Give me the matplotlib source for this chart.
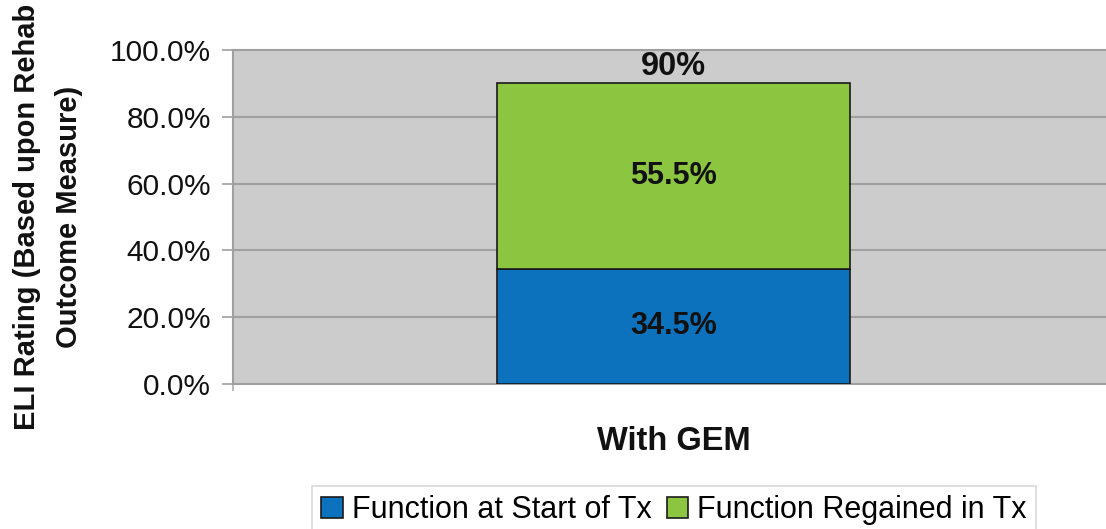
import matplotlib
matplotlib.use("Agg")
import matplotlib.pyplot as plt
from matplotlib.patches import Patch

plt.rcParams['font.family'] = ['Liberation Sans', 'DejaVu Sans']

categories = ["With GEM"]
series_names = ["Function at Start of Tx", "Function Regained in Tx"]
start_vals = [34.5]
regained_vals = [55.5]
total_labels = ["90%"]
yticks = [0, 20, 40, 60, 80, 100]

blue = "#0D72BD"
green = "#8CC53F"

fig = plt.figure(figsize=(11.06, 5.29), dpi=100)
ax = fig.add_axes([233/1106, 1-384/529, 1-233/1106, (384-50)/529])
ax.set_facecolor("#CCCCCC")

x = list(range(len(categories)))
ax.bar(x, start_vals, width=0.404, color=blue, edgecolor="#1a1a1a", linewidth=1.2, zorder=3)
ax.bar(x, regained_vals, bottom=start_vals, width=0.404, color=green, edgecolor="#1a1a1a", linewidth=1.2, zorder=3)

for i in x:
    ax.text(i, start_vals[i]/2, f"{start_vals[i]}%", ha="center", va="center",
            fontsize=22, fontweight="bold", color="#111111", zorder=4)
    ax.text(i, start_vals[i] + regained_vals[i]/2, f"{regained_vals[i]}%", ha="center", va="center",
            fontsize=22, fontweight="bold", color="#111111", zorder=4)
    ax.text(i, start_vals[i] + regained_vals[i] + 0.3, total_labels[i], ha="center", va="bottom",
            fontsize=23.5, fontweight="bold", color="#111111", zorder=4)

off = 0.0046
ax.set_xlim(-0.5 - off, 0.5 - off)
ax.set_ylim(0, 100)
ax.set_yticks(yticks)
ax.set_yticklabels([f"{v:.1f}%" for v in yticks], fontsize=21.5, color="#111111")
ax.yaxis.grid(True, color="#A0A0A0", linewidth=1.5, zorder=0)
ax.set_axisbelow(True)
ax.tick_params(axis="y", direction="out", length=8, width=1.2, color="#A0A0A0", pad=8)

ax.set_xticks(x)
ax.set_xticklabels(categories, fontsize=23.5, fontweight="bold", color="#111111")
ax.tick_params(axis="x", length=0, pad=30)
ax.set_xticks([-0.5 - off], minor=True)
ax.tick_params(axis="x", which="minor", direction="out", length=5, width=1.2, color="#B0B0B0")

for s in ["left", "bottom", "top"]:
    ax.spines[s].set_color("#A0A0A0")
    ax.spines[s].set_linewidth(1.5)
ax.spines["right"].set_visible(False)

fig.text(48/1106, 1-217/529, "ELI Rating (Based upon Rehab\nOutcome Measure)", rotation=90,
         ha="center", va="center", multialignment="center", fontsize=21, fontweight="bold",
         color="#111111", linespacing=1.6)

handles = [Patch(facecolor=blue, edgecolor="#1a1a1a", linewidth=1.2),
           Patch(facecolor=green, edgecolor="#1a1a1a", linewidth=1.2)]
leg = fig.legend(handles, series_names, loc="center", bbox_to_anchor=(674/1106, 1-510/529),
                 ncol=2, fontsize=22, frameon=True, fancybox=False, edgecolor="#D0D0D0",
                 handlelength=0.7, handleheight=0.7, handletextpad=0.3, columnspacing=0.5,
                 borderpad=0.3, borderaxespad=0)
leg.get_frame().set_linewidth(1.2)

fig.savefig("out.png", dpi=100)
